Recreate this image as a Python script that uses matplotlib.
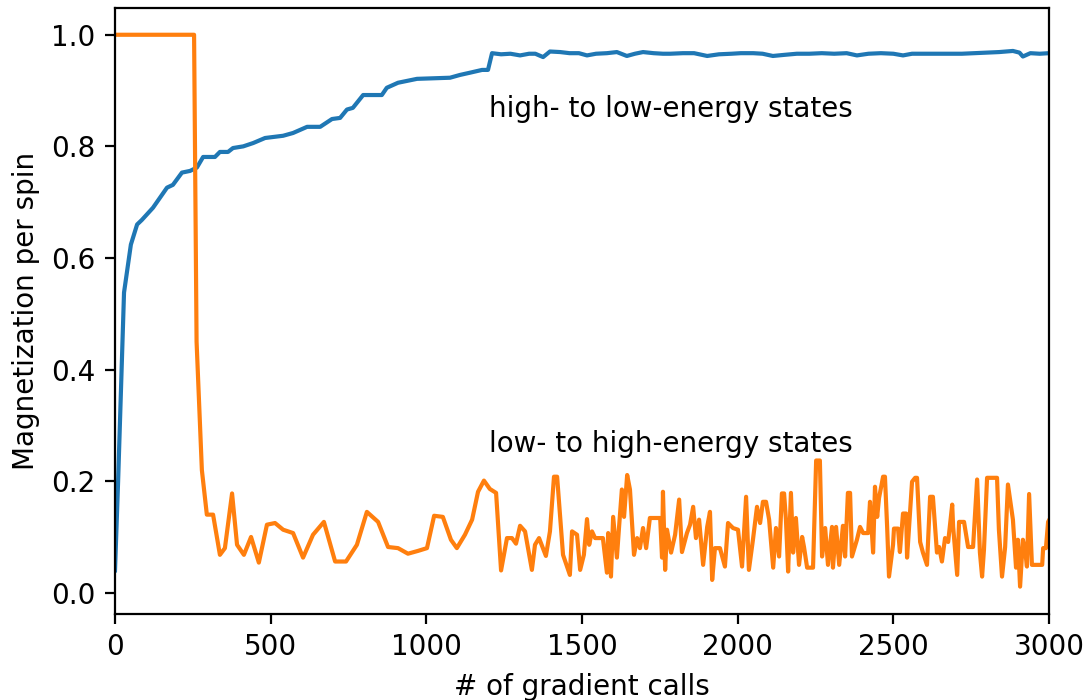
import matplotlib
matplotlib.use("Agg")
import matplotlib.pyplot as plt
import numpy as np

# high- to low-energy states (blue)
blue_x = [0, 10, 29, 51, 71, 86, 122, 167, 186, 215, 241, 263, 283, 321,
          337, 363, 379, 412, 444, 482, 540, 572, 617, 659, 697, 723, 745,
          764, 797, 857, 873, 909, 970, 1076, 1108, 1140, 1179, 1198, 1211,
          1240, 1270, 1301, 1330, 1350, 1375, 1397, 1430, 1460, 1490, 1516,
          1545, 1580, 1612, 1644, 1670, 1696, 1730, 1760, 1783, 1824, 1860,
          1902, 1940, 1980, 2010, 2050, 2080, 2113, 2150, 2190, 2230, 2270,
          2310, 2350, 2383, 2420, 2460, 2500, 2531, 2560, 2600, 2640, 2680,
          2720, 2760, 2800, 2840, 2884, 2905, 2916, 2940, 2970, 3000]
blue_y = [0.04, 0.2, 0.538, 0.624, 0.66, 0.668, 0.69, 0.726, 0.731, 0.753,
          0.756, 0.762, 0.781, 0.781, 0.79, 0.79, 0.797, 0.80, 0.806, 0.815,
          0.819, 0.824, 0.835, 0.835, 0.849, 0.851, 0.866, 0.869, 0.892,
          0.892, 0.905, 0.914, 0.921, 0.923, 0.928, 0.932, 0.937, 0.937,
          0.967, 0.965, 0.966, 0.963, 0.966, 0.966, 0.960, 0.970, 0.969,
          0.967, 0.967, 0.963, 0.966, 0.967, 0.969, 0.962, 0.966, 0.969,
          0.967, 0.966, 0.966, 0.967, 0.967, 0.962, 0.965, 0.966, 0.967,
          0.967, 0.966, 0.962, 0.964, 0.966, 0.966, 0.967, 0.966, 0.967,
          0.963, 0.966, 0.967, 0.966, 0.963, 0.966, 0.966, 0.966, 0.966,
          0.966, 0.967, 0.968, 0.969, 0.971, 0.968, 0.961, 0.967, 0.966,
          0.967]

# low- to high-energy states (orange)
orange_x = [0, 254, 262, 279, 295, 315, 337, 353, 376, 392, 414, 437, 462,
            488, 514, 540, 572, 604, 636, 671, 707, 742, 777, 809, 845, 877,
            909, 941, 973, 1002, 1025, 1053, 1079, 1098, 1124, 1147, 1166,
            1185, 1204, 1224, 1240, 1259, 1275, 1288, 1301, 1317, 1339, 1349,
            1362, 1384, 1397, 1410, 1420, 1439, 1452, 1461, 1468, 1484, 1494,
            1506, 1516, 1523, 1532, 1542, 1567, 1580, 1584, 1593, 1600, 1612,
            1619, 1628, 1635, 1645, 1654, 1667, 1677, 1686, 1696, 1706, 1718,
            1751, 1757, 1760, 1767, 1773, 1786, 1799, 1812, 1821, 1837, 1847,
            1857, 1866, 1876, 1889, 1902, 1911, 1918, 1927, 1943, 1959, 1969,
            1985, 2001, 2014, 2027, 2036, 2049, 2062, 2072, 2081, 2091, 2101,
            2114, 2123, 2133, 2142, 2149, 2155, 2162, 2171, 2178, 2187, 2197,
            2207, 2213, 2223, 2242, 2252, 2264, 2271, 2281, 2290, 2303, 2306,
            2316, 2326, 2338, 2345, 2354, 2361, 2367, 2383, 2393, 2403, 2419,
            2425, 2435, 2441, 2448, 2454, 2467, 2473, 2480, 2486, 2499, 2502,
            2515, 2521, 2531, 2541, 2544, 2560, 2570, 2576, 2586, 2595, 2608,
            2618, 2627, 2640, 2647, 2656, 2666, 2676, 2689, 2692, 2705, 2711,
            2727, 2740, 2756, 2769, 2778, 2785, 2791, 2801, 2833, 2839, 2849,
            2859, 2868, 2884, 2894, 2900, 2907, 2916, 2923, 2929, 2936, 2945,
            2978, 2981, 2990, 2997, 3010]
orange_y = [1.0, 1.0, 0.45, 0.22, 0.14, 0.14, 0.068, 0.08, 0.178, 0.086,
            0.068, 0.10, 0.054, 0.122, 0.125, 0.113, 0.107, 0.063, 0.104,
            0.127, 0.056, 0.056, 0.086, 0.145, 0.127, 0.082, 0.08, 0.07,
            0.075, 0.08, 0.138, 0.136, 0.095, 0.08, 0.104, 0.131, 0.181,
            0.201, 0.186, 0.179, 0.04, 0.098, 0.098, 0.088, 0.12, 0.11,
            0.041, 0.086, 0.098, 0.066, 0.11, 0.208, 0.208, 0.068, 0.047,
            0.032, 0.11, 0.104, 0.041, 0.068, 0.132, 0.086, 0.11, 0.098,
            0.098, 0.036, 0.107, 0.029, 0.136, 0.063, 0.118, 0.185, 0.136,
            0.211, 0.185, 0.068, 0.098, 0.08, 0.116, 0.08, 0.134, 0.134,
            0.063, 0.181, 0.041, 0.113, 0.072, 0.104, 0.167, 0.073, 0.107,
            0.122, 0.154, 0.098, 0.131, 0.05, 0.118, 0.145, 0.023, 0.08,
            0.08, 0.047, 0.125, 0.116, 0.113, 0.047, 0.172, 0.041, 0.095,
            0.154, 0.125, 0.163, 0.163, 0.131, 0.045, 0.116, 0.065, 0.178,
            0.178, 0.131, 0.038, 0.179, 0.072, 0.134, 0.05, 0.1, 0.082,
            0.045, 0.045, 0.237, 0.237, 0.065, 0.116, 0.05, 0.118, 0.045,
            0.118, 0.05, 0.12, 0.065, 0.179, 0.179, 0.065, 0.095, 0.118,
            0.107, 0.107, 0.163, 0.072, 0.19, 0.136, 0.17, 0.208, 0.208,
            0.118, 0.029, 0.086, 0.115, 0.115, 0.073, 0.142, 0.142, 0.063,
            0.199, 0.206, 0.206, 0.091, 0.072, 0.05, 0.172, 0.172, 0.072,
            0.082, 0.056, 0.098, 0.091, 0.158, 0.118, 0.032, 0.127, 0.127,
            0.082, 0.082, 0.203, 0.072, 0.029, 0.077, 0.206, 0.206, 0.113,
            0.029, 0.082, 0.194, 0.131, 0.045, 0.095, 0.011, 0.095, 0.077,
            0.047, 0.177, 0.05, 0.05, 0.08, 0.08, 0.127, 0.14]

DPI = 200
fig = plt.figure(figsize=(1089 / DPI, 700 / DPI), dpi=DPI)
ax = fig.add_axes([0.1056, 0.1229, 0.8577, 0.8657])
ax.plot(blue_x, blue_y, color="#1f77b4", lw=1.5)
ax.plot(orange_x, orange_y, color="#ff7f0e", lw=1.5)
ax.text(1200, 0.867, "high- to low-energy states", fontsize=10, va="center")
ax.text(1200, 0.267, "low- to high-energy states", fontsize=10, va="center")
ax.set_xlim(0, 3000)
ax.set_ylim(-0.038, 1.048)
ax.set_xticks([0, 500, 1000, 1500, 2000, 2500, 3000])
ax.set_yticks([0.0, 0.2, 0.4, 0.6, 0.8, 1.0])
ax.set_xlabel("# of gradient calls")
ax.set_ylabel("Magnetization per spin")
fig.savefig("out.png", dpi=DPI)
